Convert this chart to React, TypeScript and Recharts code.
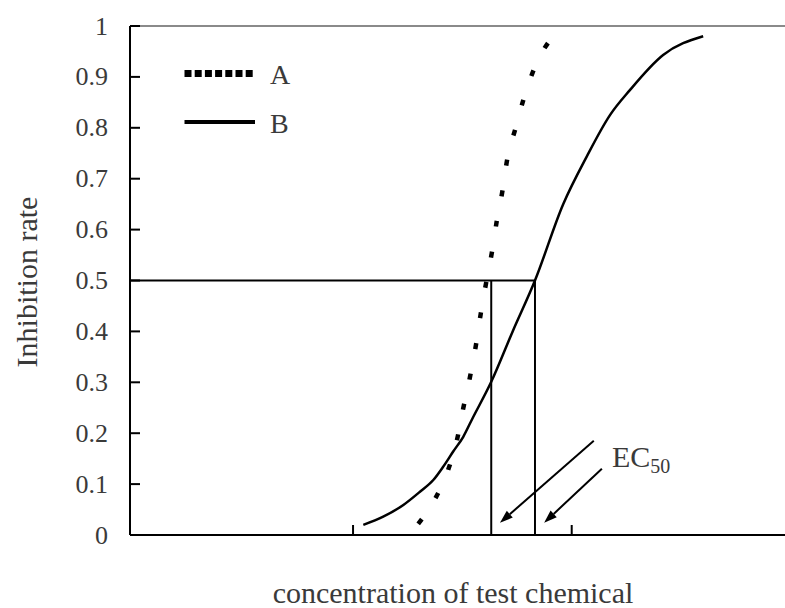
import React from 'react';
import {
  LineChart,
  Line,
  XAxis,
  YAxis,
  ReferenceLine,
  ReferenceDot,
  Legend,
} from 'recharts';

// Concentration (log units) and inhibition rate
const seriesAX = [1.298, 1.374, 1.435, 1.476, 1.504, 1.535, 1.562, 1.583, 1.608, 1.634, 1.657, 1.684, 1.705, 1.743, 1.781, 1.832, 1.925];
const seriesAY = [0.022, 0.07, 0.128, 0.188, 0.249, 0.311, 0.373, 0.432, 0.494, 0.553, 0.616, 0.678, 0.738, 0.799, 0.858, 0.92, 0.985];

const seriesBX = [1.047, 1.138, 1.23, 1.306, 1.367, 1.412, 1.458, 1.504, 1.545, 1.631, 1.73, 1.832, 1.961, 2.068, 2.175, 2.266, 2.418, 2.601];
const seriesBY = [0.02, 0.036, 0.059, 0.085, 0.108, 0.134, 0.164, 0.193, 0.228, 0.3, 0.4, 0.5, 0.65, 0.743, 0.825, 0.874, 0.943, 0.98];

const seriesNames = ['A', 'B'];
const xTicks = [1, 2];
const yTicks = [0, 0.1, 0.2, 0.3, 0.4, 0.5, 0.6, 0.7, 0.8, 0.9, 1];
const yTickLabels = ['0', '0.1', '0.2', '0.3', '0.4', '0.5', '0.6', '0.7', '0.8', '0.9', '1'];

const ec50Level = 0.5;
const ec50A = 1.632;
const ec50B = 1.832;
const xMin = -0.02;
const xMax = 2.98;

// annotation arrows (data coordinates)
const arrows = [
  { from: { x: 2.101, y: 0.185 }, to: { x: 1.672, y: 0.024 } },
  { from: { x: 2.138, y: 0.13 }, to: { x: 1.874, y: 0.024 } },
];
const ec50LabelPos = { x: 2.184, y: 0.134 };

const dataA = seriesAX.map((x, i) => ({ x, v: seriesAY[i] }));
const dataB = seriesBX.map((x, i) => ({ x, v: seriesBY[i] }));

const FONT = '"Liberation Serif", "DejaVu Serif", serif';
const TEXT = '#3a3a3a';

const YTick = (props: any) => {
  const { x, y, payload } = props;
  const idx = yTicks.indexOf(payload.value);
  const axisX = x + 22;
  return (
    <g>
      <line x1={axisX} x2={axisX + 10} y1={y} y2={y} stroke="#000" strokeWidth={2} />
      <text
        x={x}
        y={y}
        textAnchor="end"
        dominantBaseline="central"
        fontFamily={FONT}
        fontSize={26}
        fill={TEXT}
      >
        {idx >= 0 ? yTickLabels[idx] : payload.value}
      </text>
    </g>
  );
};

const XTick = (props: any) => {
  const { x, y } = props;
  return <line x1={x} x2={x} y1={y} y2={y - 10} stroke="#000" strokeWidth={2} />;
};

const ArrowShape = (props: any) => {
  const { x1, y1, x2, y2 } = props;
  if ([x1, y1, x2, y2].some((v) => v === undefined || isNaN(v))) return null;
  const dx = x2 - x1;
  const dy = y2 - y1;
  const len = Math.sqrt(dx * dx + dy * dy);
  const ux = dx / len;
  const uy = dy / len;
  const hl = 13;
  const hw = 4.5;
  const bx = x2 - ux * hl;
  const by = y2 - uy * hl;
  const px = -uy;
  const py = ux;
  return (
    <g>
      <line x1={x1} y1={y1} x2={bx} y2={by} stroke="#000" strokeWidth={2} />
      <polygon
        points={`${x2},${y2} ${bx + px * hw},${by + py * hw} ${bx - px * hw},${by - py * hw}`}
        fill="#000"
      />
    </g>
  );
};

const LegendContent = (props: any) => {
  const payload = props.payload || [];
  return (
    <svg width={140} height={90} style={{ display: 'block', overflow: 'visible' }}>
      {payload.map((entry: any, i: number) => {
        const y = 23.5 + i * 48.5;
        const dashed = entry.value === seriesNames[0];
        return (
          <g key={entry.value}>
            <line
              x1={9.5}
              x2={dashed ? 78 : 80}
              y1={y}
              y2={y}
              stroke="#000"
              strokeWidth={dashed ? 7 : 4}
              strokeDasharray={dashed ? '7 3.2' : undefined}
            />
            <text x={95} y={y + 1} dominantBaseline="central" fontFamily={FONT} fontSize={28} fill={TEXT}>
              {entry.value}
            </text>
          </g>
        );
      })}
    </svg>
  );
};

export default function App() {
  return (
    <div
      style={{
        position: 'absolute',
        left: 0,
        top: 0,
        width: 785,
        height: 608,
        overflow: 'hidden',
        background: '#fff',
      }}
    >
      <LineChart width={800} height={608} margin={{ top: 26, right: 14, bottom: 0, left: 0 }}>
        <XAxis
          type="number"
          dataKey="x"
          domain={[xMin, xMax]}
          ticks={xTicks}
          allowDataOverflow
          axisLine={{ stroke: '#000', strokeWidth: 2 }}
          tickLine={false}
          tickSize={0}
          tickMargin={0}
          tick={<XTick />}
          height={73}
          label={{
            content: () => (
              <text
                x={453}
                y={603}
                textAnchor="middle"
                fontFamily={FONT}
                fontSize={30}
                fill={TEXT}
              >
                concentration of test chemical
              </text>
            ),
          }}
        />
        <YAxis
          type="number"
          domain={[0, 1]}
          ticks={yTicks}
          allowDataOverflow
          width={130}
          axisLine={{ stroke: '#000', strokeWidth: 2 }}
          tickLine={false}
          tickSize={0}
          tickMargin={22}
          tick={<YTick />}
          label={{
            content: () => (
              <text
                x={37}
                y={282}
                transform="rotate(-90 37 282)"
                textAnchor="middle"
                fontFamily={FONT}
                fontSize={30}
                fill={TEXT}
              >
                Inhibition rate
              </text>
            ),
          }}
        />
        <ReferenceLine y={1} stroke="#8a8a8a" strokeWidth={2} />
        <ReferenceLine
          segment={[
            { x: xMin, y: ec50Level },
            { x: ec50B, y: ec50Level },
          ]}
          stroke="#000"
          strokeWidth={2}
        />
        <ReferenceLine
          segment={[
            { x: ec50A, y: 0 },
            { x: ec50A, y: ec50Level },
          ]}
          stroke="#000"
          strokeWidth={2}
        />
        <ReferenceLine
          segment={[
            { x: ec50B, y: 0 },
            { x: ec50B, y: ec50Level },
          ]}
          stroke="#000"
          strokeWidth={2}
        />
        {arrows.map((a, i) => (
          <ReferenceLine key={i} segment={[a.from, a.to]} shape={<ArrowShape />} stroke="#000" />
        ))}
        <ReferenceDot
          x={ec50LabelPos.x}
          y={ec50LabelPos.y}
          r={0}
          fill="none"
          stroke="none"
          label={{
            content: (p: any) => {
              const vb = p.viewBox || {};
              return (
                <text x={vb.x} y={vb.y} fontFamily={FONT} fontSize={30} fill={TEXT}>
                  EC
                  <tspan fontSize={20} dy={6}>
                    50
                  </tspan>
                </text>
              );
            },
          }}
        />
        <Line
          data={dataA}
          dataKey="v"
          name={seriesNames[0]}
          type="monotone"
          stroke="#000"
          strokeWidth={4.5}
          strokeDasharray="6 25"
          dot={false}
          activeDot={false}
          isAnimationActive={false}
        />
        <Line
          data={dataB}
          dataKey="v"
          name={seriesNames[1]}
          type="monotone"
          stroke="#000"
          strokeWidth={2.5}
          dot={false}
          activeDot={false}
          isAnimationActive={false}
        />
        <Legend
          verticalAlign="top"
          align="left"
          content={<LegendContent />}
          wrapperStyle={{
            position: 'absolute',
            left: 175,
            top: 50,
            width: 0,
            height: 0,
            overflow: 'visible',
          }}
        />
      </LineChart>
    </div>
  );
}
